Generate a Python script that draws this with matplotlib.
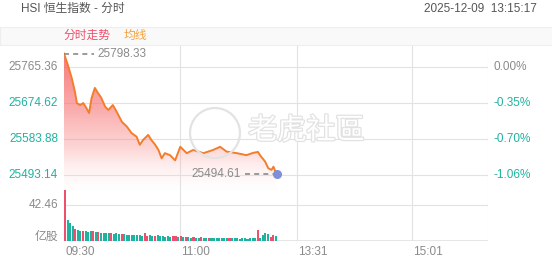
import numpy as np
import matplotlib.pyplot as plt
import matplotlib.transforms as mtrans
import matplotlib.patheffects as pe
from matplotlib.colors import LinearSegmentedColormap
from matplotlib.patches import Rectangle, Circle, Polygon

plt.rcParams['font.family'] = ['Liberation Sans', 'Noto Sans CJK SC', 'DejaVu Sans']

# 前收盘价
pre_close = 25765.36

# 分时价格 (交易分钟, 09:30 起, 已去掉午休)
t_min = [0, 3, 6, 8.5, 10, 12.5, 15, 17.5, 19.5, 21.5, 24, 26.5, 29, 32, 34.5, 38,
         41, 45, 49, 52.5, 56.5, 59, 61.5, 65.5, 68, 71, 73.5, 76, 78.5, 82.5,
         86.5, 90.5, 95.5, 100.5, 108.5, 116, 121.5, 126.5, 134.5, 142, 147.5,
         151, 152.5, 156.5, 159, 161.5, 163, 165.5]
price = [25798.33, 25769.6, 25737.0, 25702.5, 25674.0, 25669.0, 25674.0, 25661.0,
         25649.0, 25687.0, 25712.0, 25699.0, 25687.0, 25665.0, 25656.5, 25669.0,
         25652.0, 25627.0, 25614.5, 25598.7, 25589.4, 25569.0, 25581.0, 25594.0,
         25581.0, 25569.0, 25556.0, 25535.0, 25548.0, 25543.0, 25530.0, 25564.0,
         25548.0, 25556.0, 25548.0, 25556.0, 25564.0, 25552.0, 25548.0, 25543.0,
         25549.0, 25551.0, 25543.0, 25527.0, 25510.0, 25506.0, 25514.0, 25494.61]

# 成交量 (亿股), 每两分钟一根
vol_min = list(range(0, 166, 2))
volume = [60, 25, 21, 18, 14, 13, 12, 12, 12, 11, 12, 12, 11, 11, 10, 10, 9, 9, 9, 8,
          9, 8, 8, 8, 7, 7, 7, 7, 7, 7, 6, 10, 6, 7, 6, 6, 7, 6, 6, 5,
          6, 5, 6, 6, 5, 6, 5, 5, 5, 4, 5, 4, 4, 5, 4, 4, 4, 3, 4, 3,
          3, 3, 3, 3, 3, 3, 3, 3, 2, 3, 3, 2, 3, 3, 3, 13, 4, 7, 9, 8,
          5, 7, 6]
vol_up = [1, 0, 0, 0, 1, 0, 0, 1, 0, 0, 0, 1, 0, 1, 0, 0, 0, 0, 1, 0,
          0, 0, 1, 0, 0, 0, 0, 0, 0, 0, 0, 1, 1, 0, 0, 1, 0, 0, 0, 0,
          0, 0, 1, 1, 0, 1, 0, 1, 0, 0, 1, 0, 0, 1, 0, 0, 1, 0, 0, 0,
          0, 0, 0, 0, 1, 0, 0, 0, 0, 0, 0, 0, 0, 0, 0, 1, 0, 0, 0, 0,
          1, 1, 0]

y_ticks = [25765.36, 25674.62, 25583.88, 25493.14]
pct_labels = ['0.00%', '-0.35%', '-0.70%', '-1.06%']
time_ticks = [0, 90, 181, 271]
time_labels = ['09:30', '11:00', '13:31', '15:01']
vol_tick = 42.46

grey = '#8a8a8a'
teal = '#1fb2a0'
red = '#ee4f6c'
orange = '#f47d2c'
grid = '#e2e2e2'

fig = plt.figure(figsize=(5.52, 2.65), dpi=100)
W, H = 552, 265

def box(x0, y0, x1, y1):
    return [x0 / W, 1 - y1 / H, (x1 - x0) / W, (y1 - y0) / H]

ax = fig.add_axes(box(64, 45, 488, 190))
axv = fig.add_axes(box(64, 190, 488, 241))

# 顶部标题
fig.text(21 / W, 1 - 9 / H, 'HSI 恒生指数 - 分时', fontsize=8.5, color='#555555', va='center')
fig.text(537 / W, 1 - 9 / H, '2025-12-09  13:15:17', fontsize=8.5, color='#555555',
         va='center', ha='right')
fig.patches.append(Rectangle((0, 1 - 45 / H), 1, 18 / H, transform=fig.transFigure,
                             facecolor='#f9f9f9', edgecolor='#eeeeee', lw=0.8, zorder=0))
fig.text(63 / W, 1 - 36 / H, '分时走势', fontsize=8.5, color=red, va='center')
fig.text(124 / W, 1 - 36 / H, '均线', fontsize=8.5, color='#f5a33a', va='center')

# 主图
ylo, yhi = 25455.4, 25819.9
ax.set_xlim(0, 330)
ax.set_ylim(ylo, yhi)
for p in y_ticks:
    ax.axhline(p, color=grid, lw=0.8, zorder=0)
for t in time_ticks[1:] + [330]:
    ax.axvline(t, color=grid, lw=0.8, zorder=0)
    axv.axvline(t, color=grid, lw=0.8, zorder=0)

# 渐变填充
cmap = LinearSegmentedColormap.from_list('fade', [
    (0.0, (1.0, 0.9, 0.9, 0.05)),
    (0.3, (0.98, 0.55, 0.55, 0.35)),
    (0.6, (0.97, 0.45, 0.45, 0.6)),
    (1.0, (0.96, 0.38, 0.38, 0.85))])
grad = np.linspace(0, 1, 256).reshape(-1, 1) * np.ones((1, 8))
img = ax.imshow(grad, cmap=cmap, aspect='auto', origin='lower', interpolation='bilinear',
                extent=[0, 330, ylo, max(price)], zorder=1)
poly = Polygon(list(zip(t_min, price)) + [(t_min[-1], ylo), (0, ylo)],
               closed=True, facecolor='none', edgecolor='none')
ax.add_patch(poly)
img.set_clip_path(poly)
ax.set_xlim(0, 330)
ax.set_ylim(ylo, yhi)

ax.plot(t_min, price, color=orange, lw=1.4, zorder=3)

# 最高/最新价标注
ax.plot([0, 23], [max(price)] * 2, ls=(0, (3, 2.5)), color=grey, lw=1.2, zorder=3)
ax.text(26, max(price), '%.2f' % max(price), color=grey, fontsize=8.5, va='center')
ax.plot([141, t_min[-1]], [price[-1]] * 2, ls=(0, (3, 2.5)),
        color=grey, lw=1.2, zorder=3)
ax.text(138, price[-1], '%.2f' % price[-1], color=grey, fontsize=8.5, va='center', ha='right')
ax.scatter([t_min[-1]], [price[-1]], s=30, color='#7f8fd8', zorder=4)

left = mtrans.blended_transform_factory(ax.transAxes, ax.transData)
for i, p in enumerate(y_ticks):
    c = grey if i == 0 else teal
    ax.text(-0.014, p, '%.2f' % p, transform=left, ha='right', va='center', fontsize=8.5, color=c)
    ax.text(1.012, p, pct_labels[i], transform=left, ha='left', va='center', fontsize=8.5, color=c)

# 水印
fig.patches.append(Circle((2.15, 1.32), 0.25, transform=fig.dpi_scale_trans,
                          facecolor='none', edgecolor='#e3e3e3', lw=1.6, zorder=5))
fig.text(248 / W, 1 - 131 / H, '老虎社區', fontsize=21, color='white', va='center',
         family=['Noto Sans CJK TC'], zorder=5,
         path_effects=[pe.withStroke(linewidth=1.8, foreground='#e2e2e2')])

for a in (ax, axv):
    for s in a.spines.values():
        s.set_visible(False)
    a.set_xticks([])
    a.set_yticks([])
    a.patch.set_alpha(0)

# 成交量
axv.set_xlim(0, 330)
axv.set_ylim(0, 60.15)
axv.axhline(vol_tick, color=grid, lw=0.8, zorder=0)
axv.axhline(0, color=grid, lw=1.2, zorder=0)
colors = [red if u else teal for u in vol_up]
axv.bar(vol_min, volume, width=1.6, align='edge', color=colors, zorder=2)
vleft = mtrans.blended_transform_factory(axv.transAxes, axv.transData)
axv.text(-0.014, vol_tick, '%.2f' % vol_tick, transform=vleft, ha='right', va='center',
         fontsize=8.5, color=grey)
axv.text(-0.014, 5, '亿股', transform=vleft, ha='right', va='center', fontsize=8.5, color=grey)

for t, lab in zip(time_ticks, time_labels):
    axv.text(t + 1, -0.22, lab, transform=mtrans.blended_transform_factory(axv.transData, axv.transAxes),
             ha='left', va='center', fontsize=8.5, color=grey)

fig.savefig('out.png', dpi=100)
